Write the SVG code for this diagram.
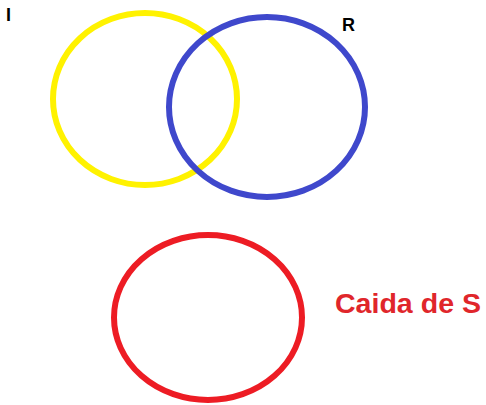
<svg xmlns="http://www.w3.org/2000/svg" width="486" height="405" viewBox="0 0 486 405">
<style>
.ring{fill:none;stroke-width:6}
.lbl{font-family:"Liberation Sans",Arial,sans-serif;font-weight:bold}
</style>
<rect width="486" height="405" fill="#ffffff"/>
<g id="I">
<ellipse class="ring" cx="145" cy="99" rx="92" ry="86" stroke="#FFF200"/>
<text class="lbl" x="6" y="21" font-size="18" fill="#000">I</text>
</g>
<g id="R">
<ellipse class="ring" cx="267" cy="107" rx="98" ry="90" stroke="#3F48CC"/>
<text class="lbl" x="342" y="31" font-size="18" fill="#000">R</text>
</g>
<g id="S">
<ellipse class="ring" cx="208" cy="317.5" rx="94" ry="82.5" stroke="#ED1C24"/>
<text class="lbl" x="335" y="313" font-size="28" fill="#E0262B" textLength="146" lengthAdjust="spacingAndGlyphs">Caida de S</text>
</g>
<g id="connectors"/>
</svg>
